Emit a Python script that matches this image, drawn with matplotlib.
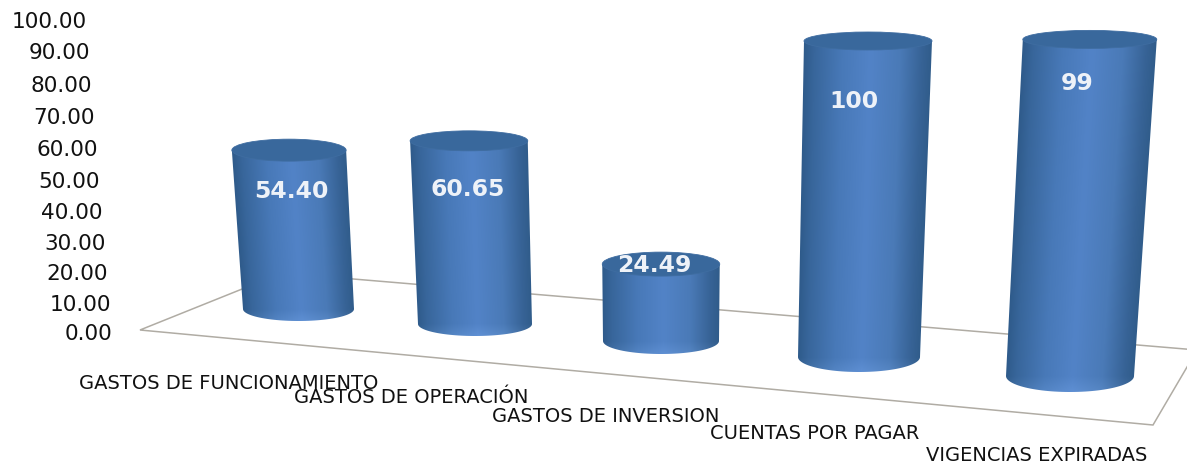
import matplotlib
matplotlib.use('Agg')
import matplotlib.pyplot as plt
import numpy as np
from matplotlib.patches import Ellipse, Polygon

# chart data
categories = ['GASTOS DE FUNCIONAMIENTO', 'GASTOS DE OPERACIÓN', 'GASTOS DE INVERSION',
              'CUENTAS POR PAGAR', 'VIGENCIAS EXPIRADAS']
values = [54.40, 60.65, 24.49, 100, 99]
value_labels = ['54.40', '60.65', '24.49', '100', '99']
ticks = [0, 10, 20, 30, 40, 50, 60, 70, 80, 90, 100]

# perspective layout in pixels, one entry per bar
base_x = [298.5, 475, 661, 859, 1070]
base_y = [310, 325, 342, 358, 377]
base_rx = [55.5, 57, 58, 61, 64]
base_ry = [12, 12, 13, 15, 16]
top_ry = [11, 10, 12, 9, 9]
unit_h = [2.92, 3.02, 3.14, 3.16, 3.40]
lean = [-0.175, -0.10, 0.0, 0.09, 0.20]
rx_grow = 0.03

label_xy = [(291, 192), (468, 190), (654, 266), (854, 102), (1077, 84)]
cat_xy = [(229, 384), (411.5, 398), (606, 417), (815, 434), (1037, 456)]
tick_right = [112, 111, 108, 106, 103, 100, 97.5, 95, 92, 90, 87]
tick_y = [334, 305, 274, 244, 213, 182, 150, 118, 86, 53, 22]
floor = [(140, 331), (282, 274), (1197, 351), (1153, 426)]

shade_u = [0, 0.08, 0.3, 0.52, 0.75, 0.92, 1]
shade_rgb = np.array([(0x2f, 0x5b, 0x8b), (0x38, 0x66, 0x9b), (0x48, 0x79, 0xb8), (0x52, 0x83, 0xc7),
                      (0x4a, 0x7a, 0xb7), (0x37, 0x63, 0x96), (0x30, 0x5c, 0x8a)]) / 255.0

fig = plt.figure(figsize=(11.87, 4.64), dpi=100)
ax = fig.add_axes([0, 0, 1, 1])
ax.set_xlim(0, 1187)
ax.set_ylim(464, 0)
ax.axis('off')

ax.add_patch(Polygon(floor, closed=True, fc='white', ec='#b0aca4', lw=1.1, zorder=1))


def cylinder(i):
    v = values[i]
    top_y = base_y[i] - v * unit_h[i]
    top_x = base_x[i] + v * lean[i]
    top_rx = base_rx[i] + v * rx_grow
    z = 2 + i

    # outline of the body: sides and the lower half of the base
    t = np.linspace(0, np.pi, 60)
    arc_x = base_x[i] + base_rx[i] * np.cos(t)
    arc_y = base_y[i] + base_ry[i] * np.sin(t)
    px = np.concatenate([[top_x + top_rx], arc_x, [top_x - top_rx]])
    py = np.concatenate([[top_y], arc_y, [top_y]])
    body = Polygon(np.column_stack([px, py]), closed=True, fc='none', ec='none', zorder=z)
    ax.add_patch(body)

    # horizontal shading that follows the lean of the sides
    x0, x1 = px.min() - 2, px.max() + 2
    y0, y1 = top_y, base_y[i] + base_ry[i]
    xs = np.arange(x0, x1, 1.0)
    ys = np.arange(y0, y1, 1.0)
    xx, yy = np.meshgrid(xs, ys)
    f = (yy - top_y) / (base_y[i] - top_y)
    cx = top_x + (base_x[i] - top_x) * f
    rx = top_rx + (base_rx[i] - top_rx) * f
    u = np.clip((xx - (cx - rx)) / (2 * rx), 0, 1)
    img = np.dstack([np.interp(u, shade_u, shade_rgb[:, c]) for c in range(3)])
    # rim at the bottom is a bit lighter
    img = np.clip(img + 0.05 * np.clip((yy - base_y[i]) / base_ry[i], 0, 1)[..., None], 0, 1)
    im = ax.imshow(img, extent=(x0, x1, y1, y0), aspect='auto', interpolation='bilinear', zorder=z)
    im.set_clip_path(body)

    ax.add_patch(Ellipse((top_x, top_y), 2 * top_rx, 2 * top_ry[i], fc='#39689c', ec='#3f6da1', lw=0.6, zorder=z + 0.1))


for i in range(len(values)):
    cylinder(i)

ax.set_xlim(0, 1187)
ax.set_ylim(464, 0)

for i, lab in enumerate(value_labels):
    ax.text(label_xy[i][0], label_xy[i][1], lab, color='#eef2f8', fontsize=16.9, fontweight='bold',
            ha='center', va='center', zorder=20)

for i, cat in enumerate(categories):
    ax.text(cat_xy[i][0], cat_xy[i][1], cat, color='#111111', fontsize=14, ha='center', va='center', zorder=20)

for i, t in enumerate(ticks):
    ax.text(tick_right[i], tick_y[i], '%.2f' % t, color='#111111', fontsize=15.6, ha='right', va='center', zorder=20)

fig.savefig('out.png', dpi=100)
